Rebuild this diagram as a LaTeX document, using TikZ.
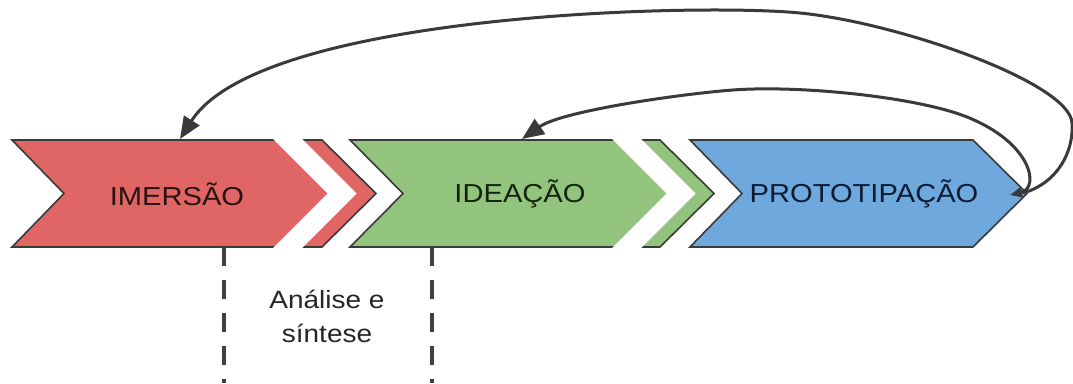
\documentclass[tikz,border=0pt]{standalone}
\usepackage{fontspec}
\setmainfont{Liberation Sans}
\usetikzlibrary{arrows.meta}
\definecolor{cred}{HTML}{E06666}
\definecolor{cgreen}{HTML}{93C47D}
\definecolor{cblue}{HTML}{6FA8DC}
\definecolor{cline}{HTML}{3A3A3A}
\definecolor{tred}{HTML}{2A1212}
\definecolor{tgreen}{HTML}{14230F}
\definecolor{tblue}{HTML}{0C1C33}
\begin{document}
\begin{tikzpicture}[x=1pt,y=1pt,
  chev/.style={draw=cline,line width=1.6pt,line join=miter},
  gap/.style={fill=white},
  lbl/.style={font=\fontsize{26}{30}\selectfont,inner sep=0pt},
  note/.style={font=\fontsize{25}{30}\selectfont,inner sep=0pt,text=black!85,anchor=base},
  dashline/.style={draw=black!75,line width=3.5pt,dash pattern=on 19pt off 14pt},
  arc/.style={draw=cline,line width=3pt},
  bigtip/.style={Triangle[length=22pt,width=18pt]},
  smalltip/.style={Triangle[length=12pt,width=10pt]}]
\useasboundingbox (0,0) rectangle (1073,383);
\fill[white] (0,0) rectangle (1073,383);

% red chevron with white gap
\draw[chev,fill=cred] (12,243) -- (322,243) -- (376,189.5) -- (322,136) -- (12,136) -- (64,189.5) -- cycle;
\fill[gap] (272,245) -- (301,245) -- (356.5,189.5) -- (301,134) -- (272,134) -- (327.5,189.5) -- cycle;

% green chevron with white gap
\draw[chev,fill=cgreen] (350,243) -- (660,243) -- (714,189.5) -- (660,136) -- (350,136) -- (403,189.5) -- cycle;
\fill[gap] (611,245) -- (640,245) -- (695.5,189.5) -- (640,134) -- (611,134) -- (666.5,189.5) -- cycle;

% blue chevron
\draw[chev,fill=cblue] (690,243) -- (973,243) -- (1027,189.5) -- (973,136) -- (690,136) -- (742,189.5) -- cycle;

% labels
\node[lbl,text=tred] (imersao) at (177,189) {\scalebox{1.12}[1]{IMERSÃO}};
\node[lbl,text=tgreen] (ideacao) at (520,189) {\scalebox{1.12}[1]{IDEAÇÃO}};
\node[lbl,text=tblue] (proto) at (864,189) {\scalebox{1.12}[1]{PROTOTIPAÇÃO}};

% dashed markers
\coordinate (d1a) at (224,136);
\coordinate (d1b) at (224,0);
\coordinate (d2a) at (432,136);
\coordinate (d2b) at (432,0);
\draw[dashline] (d1a) -- (d1b);
\draw[dashline] (d2a) -- (d2b);

\node[note] (as1) at (327,75) {\scalebox{1.12}[1]{Análise e}};
\node[note] (as2) at (327,41) {\scalebox{1.12}[1]{síntese}};

% feedback arcs
\coordinate (imtop) at (180,244);
\coordinate (idtop) at (522,244);
\coordinate (bt1) at (1023,190);
\coordinate (bt2) at (1010,188);

\draw[arc,-{Triangle[length=22pt,width=18pt]}] (bt1) .. controls (1058,200) and (1074,232) .. (1072,260)
  .. controls (1070,300) and (900,360) .. (800,370)
  .. controls (700,380) and (260,370) .. (imtop);

\draw[arc,{Triangle[length=12pt,width=10pt]}-{Triangle[length=22pt,width=18pt]}] (bt2) .. controls (1040,195) and (1032,240) .. (967,266)
  .. controls (917,286) and (800,298) .. (733,293)
  .. controls (680,289) and (562,272) .. (idtop);
\end{tikzpicture}
\end{document}
